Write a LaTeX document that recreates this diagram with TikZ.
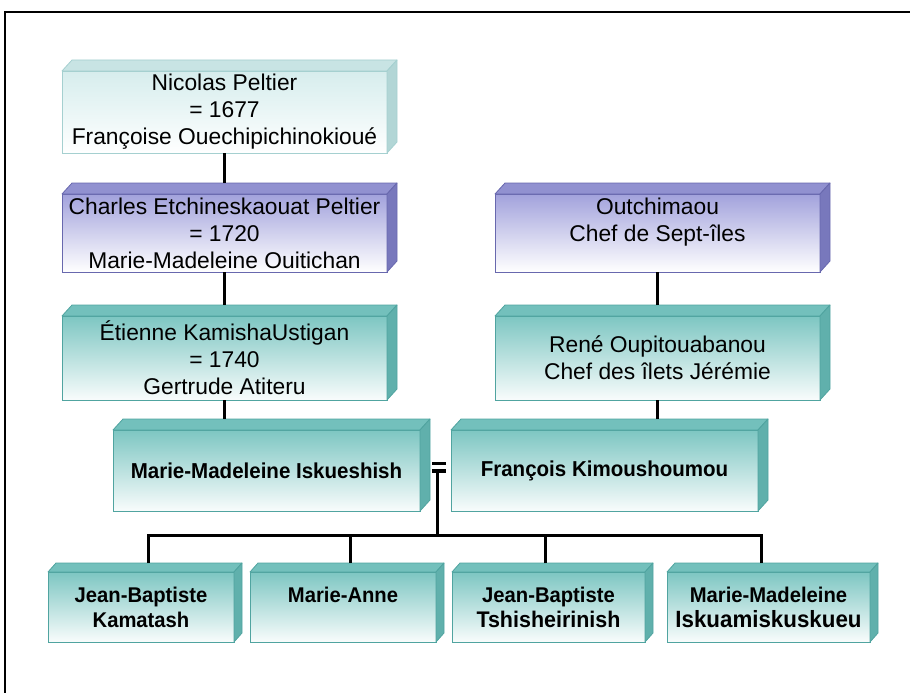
\documentclass[tikz,border=0pt]{standalone}
\usepackage{fontspec}
\setmainfont{Liberation Sans}
\newfontfamily\namesbold[FakeStretch=0.95]{Liberation Sans Bold}
\usetikzlibrary{calc}

% pale cyan boxes
\definecolor{palefront}{RGB}{214,237,237}
\definecolor{paletop}{RGB}{200,228,228}
\definecolor{paleside}{RGB}{178,214,214}
\definecolor{paleedge}{RGB}{165,208,208}
% lavender boxes
\definecolor{lavfront}{RGB}{162,162,220}
\definecolor{lavtop}{RGB}{145,145,208}
\definecolor{lavside}{RGB}{120,120,188}
\definecolor{lavedge}{RGB}{104,104,174}
% teal boxes
\definecolor{tealfront}{RGB}{125,198,194}
\definecolor{tealtop}{RGB}{115,192,188}
\definecolor{tealside}{RGB}{96,176,172}
\definecolor{tealedge}{RGB}{80,164,160}

% top and side faces of a raised box: node, top fill, side fill, edge, dx, dy
\newcommand\extrudebox[6]{%
  \filldraw[fill=#2,draw=#4,line width=0.8pt,line join=round]
    (#1.north west) -- ++(#5,-#6) -- ([shift={(#5,-#6)}]#1.north east)
    -- (#1.north east) -- cycle;
  \filldraw[fill=#3,draw=#4,line width=0.8pt,line join=round]
    (#1.north east) -- ++(#5,-#6) -- ([shift={(#5,-#6)}]#1.south east)
    -- (#1.south east) -- cycle;
}

\tikzset{
  famebox/.style={rectangle, inner sep=0pt, outer sep=0pt, line width=0.8pt,
    align=center, text=black},
  upperbox/.style={famebox, font=\fontsize{22.8}{27}\selectfont},
  middlebox/.style={famebox, font=\namesbold\fontsize{21.6}{25}\selectfont},
  lowerbox/.style={famebox, font=\namesbold\fontsize{21.3}{25}\selectfont},
  palebox/.style={draw=paleedge, top color=palefront, bottom color=white},
  lavbox/.style={draw=lavedge, top color=lavfront, bottom color=white},
  tealbox/.style={draw=tealedge, top color=tealfront, bottom color=white!95!tealfront},
  conn/.style={line width=3pt, black},
  frameline/.style={line width=2pt, black},
}

\begin{document}
\begin{tikzpicture}[x=1pt,y=-1pt]
\useasboundingbox (0,0) rectangle (910,693);
\draw[frameline] (5,700) -- (5,12) -- (915,12);

% first generations, left line
\node[upperbox, palebox, minimum width=325pt, minimum height=82pt] (nicolas) at (224.5,112)
  {Nicolas Peltier\\= 1677\\Françoise Ouechipichinokioué};
\extrudebox{nicolas}{paletop}{paleside}{paleedge}{10}{11}

\node[upperbox, lavbox, minimum width=325pt, minimum height=78pt] (charles) at (224.5,233)
  {Charles Etchineskaouat Peltier\\= 1720\\Marie-Madeleine Ouitichan};
\extrudebox{charles}{lavtop}{lavside}{lavedge}{10}{11}

\node[upperbox, tealbox, minimum width=325pt, minimum height=84pt] (etienne) at (224.5,358)
  {Étienne KamishaUstigan\\= 1740\\Gertrude Atiteru};
\extrudebox{etienne}{tealtop}{tealside}{tealedge}{10}{11}

% right line
\node[upperbox, lavbox, minimum width=325pt, minimum height=78pt] (outchimaou) at (657.5,233)
  {Outchimaou\\Chef de Sept-îles\\\mbox{}};
\extrudebox{outchimaou}{lavtop}{lavside}{lavedge}{10}{11}

\node[upperbox, tealbox, minimum width=325pt, minimum height=84pt] (rene) at (657.5,358)
  {René Oupitouabanou\\Chef des îlets Jérémie};
\extrudebox{rene}{tealtop}{tealside}{tealedge}{10}{11}

% the couple
\node[middlebox, tealbox, minimum width=307pt, minimum height=81pt] (iskueshish) at (266.5,470.5)
  {Marie-Madeleine Iskueshish};
\extrudebox{iskueshish}{tealtop}{tealside}{tealedge}{10}{11}

\node[middlebox, tealbox, minimum width=307pt, minimum height=81pt] (kimoushoumou) at (604.5,470.5)
  {François Kimoushoumou};
\extrudebox{kimoushoumou}{tealtop}{tealside}{tealedge}{10}{11}

% children
\node[lowerbox, tealbox, minimum width=186pt, minimum height=70pt] (kamatash) at (141,607)
  {Jean-Baptiste\\Kamatash};
\extrudebox{kamatash}{tealtop}{tealside}{tealedge}{8}{9}

\node[lowerbox, tealbox, minimum width=186pt, minimum height=70pt] (marieanne) at (343,607)
  {Marie-Anne\\\mbox{}};
\extrudebox{marieanne}{tealtop}{tealside}{tealedge}{8}{9}

\node[lowerbox, tealbox, minimum width=193pt, minimum height=70pt] (tshisheirinish) at (548.5,607)
  {Jean-Baptiste\\{\fontsize{22.6}{25}\selectfont Tshisheirinish}};
\extrudebox{tshisheirinish}{tealtop}{tealside}{tealedge}{8}{9}

\node[lowerbox, tealbox, minimum width=203pt, minimum height=70pt] (iskuamiskuskueu) at (768.5,607)
  {Marie-Madeleine\\{\fontsize{23.5}{25}\selectfont Iskuamiskuskueu}};
\extrudebox{iskuamiskuskueu}{tealtop}{tealside}{tealedge}{8}{9}

% descent lines
\draw[conn] (nicolas.south) -- ([shift={(0,-11)}]charles.north);
\draw[conn] (charles.south) -- ([shift={(0,-11)}]etienne.north);
\draw[conn] (etienne.south) -- ([shift={(0,-11)}]etienne.south |- iskueshish.north);
\draw[conn] (outchimaou.south) -- ([shift={(0,-11)}]rene.north);
\draw[conn] (rene.south) -- ([shift={(0,-11)}]rene.south |- kimoushoumou.north);

% marriage sign and the line to the children
\coordinate (wed) at (437,471);
\coordinate (bus) at (437,535);
\draw[line width=3.2pt] (432,463.5) -- (446,463.5);
\draw[line width=3.2pt] (432,471) -- (446,471);
\draw[conn] (wed) -- (bus);
\draw[conn] ([shift={(7,-9)}]kamatash.north) |- (bus);
\draw[conn] ([shift={(7,-9)}]marieanne.north) |- (bus);
\draw[conn] ([shift={(-3.5,-9)}]tshisheirinish.north) |- (bus);
\draw[conn] ([shift={(-7.5,-9)}]iskuamiskuskueu.north) |- (bus);
\end{tikzpicture}
\end{document}
